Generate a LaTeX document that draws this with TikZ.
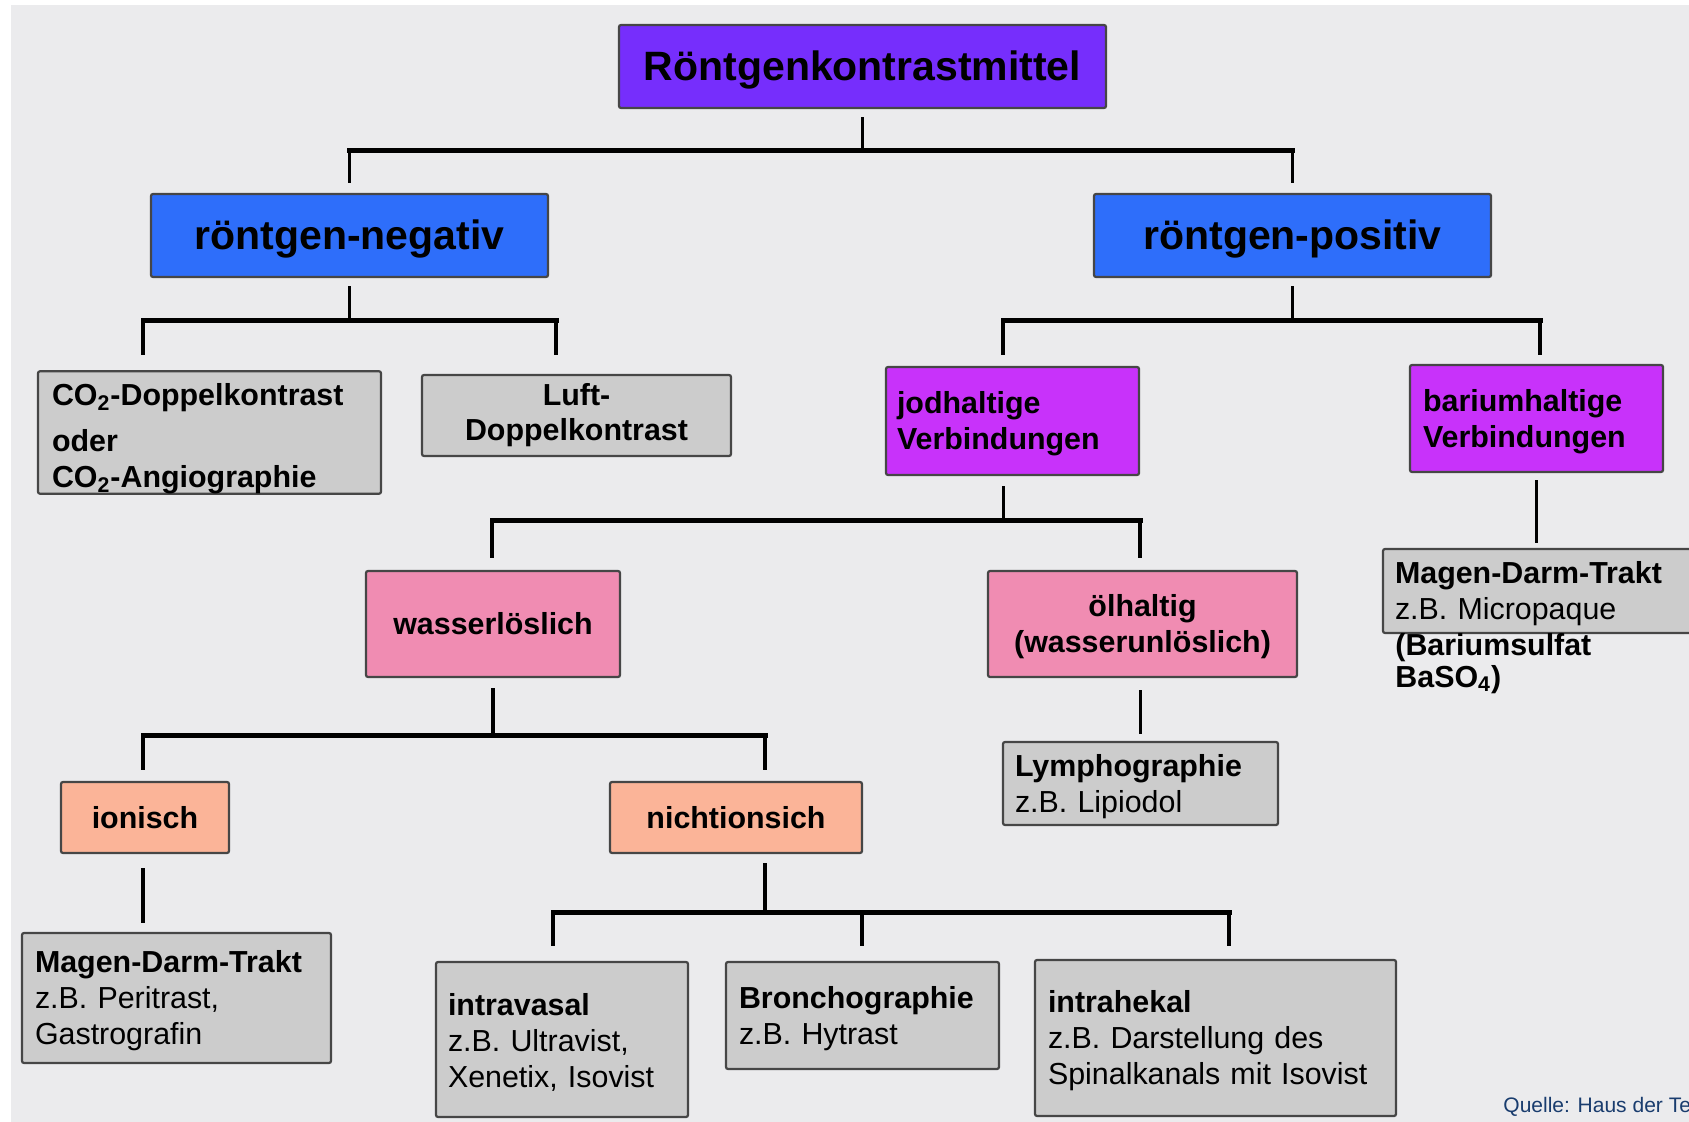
\documentclass[tikz,border=0pt]{standalone}
\usepackage{fontspec}
\setmainfont{Liberation Sans}
\usetikzlibrary{calc}
\definecolor{bgc}{RGB}{235,235,237}
\definecolor{rootc}{RGB}{118,46,252}
\definecolor{bluec}{RGB}{46,110,250}
\definecolor{magc}{RGB}{200,50,250}
\definecolor{pinkc}{RGB}{240,140,178}
\definecolor{salc}{RGB}{251,180,152}
\definecolor{grayc}{RGB}{204,204,204}
\definecolor{bordc}{RGB}{70,70,70}
\definecolor{srcc}{RGB}{25,60,110}
\tikzset{
  box/.style={draw=bordc, line width=1.1pt, rounded corners=1pt, inner sep=0pt, align=center},
  sz/.style 2 args={minimum width=#1, minimum height=#2},
  bigfont/.style={font=\fontsize{20.5}{24}\selectfont\bfseries, text height=18pt},
  midfont/.style={font=\fontsize{15.2}{18}\selectfont\bfseries},
  lbox/.style={box, fill=grayc, align=left, font=\fontsize{15.2}{18}\selectfont, text height=14pt},
  txt/.style={inner sep=0pt, font=\fontsize{15.2}{18}\selectfont},
  stub/.style={line width=1.7pt},
  barl/.style={line width=2.5pt, line cap=rect},
}
\begin{document}
\begin{tikzpicture}[x=0.5pt, y=-0.5pt]
\useasboundingbox (0,0) rectangle (1689,1122);
\clip (0,0) rectangle (1689,1122);
\fill[white] (0,0) rectangle (1689,1122);
\fill[bgc] (11,5) rectangle (1689,1122);

% nodes
\node[box, fill=rootc, bigfont, sz={243.5pt}{41.5pt}] (root) at (862.5,66.5) {Röntgenkontrastmittel};
\node[box, fill=bluec, bigfont, sz={198.5pt}{41.5pt}] (neg) at (349.5,235.5) {röntgen-negativ};
\node[box, fill=bluec, bigfont, sz={198.5pt}{41.5pt}] (pos) at (1292.5,235.5) {röntgen-positiv};

\node[lbox, text width=157.5pt, text height=17pt, sz={171.5pt}{60.5pt}] (co2) at (209.5,432.5)
  {\textbf{CO\textsubscript{2}-Doppelkontrast}\\[5pt] \textbf{oder}\\ \textbf{CO\textsubscript{2}-Angiographie}};
\node[box, fill=grayc, font=\fontsize{15.2}{17.5}\selectfont\bfseries, sz={154.5pt}{40.5pt}] (luft) at (576.5,415.5) {Luft-\\Doppelkontrast};

\node[lbox, fill=magc, text width=115.5pt, sz={126.5pt}{54pt}] (jod) at (1012.5,421)
  {\textbf{jodhaltige}\\ \textbf{Verbindungen}};
\node[lbox, fill=magc, text width=113.5pt, sz={126.5pt}{53.5pt}] (bar) at (1536.5,418.5)
  {\textbf{bariumhaltige}\\ \textbf{Verbindungen}};
\node[lbox, text width=146.5pt, sz={158.5pt}{42pt}] (magR) at (1541.5,591)
  {\textbf{Magen-Darm-Trakt}\\ z.B. Micropaque};
\node[txt, anchor=base west] (magR3) at (1395,655) {\textbf{(Bariumsulfat}};
\node[txt, anchor=base west] (magR4) at (1395,687) {\textbf{BaSO\textsubscript{4})}};

\node[box, fill=pinkc, midfont, sz={127pt}{53pt}] (wasser) at (493,624) {wasserlöslich};
\node[box, fill=pinkc, midfont, text width=140pt, align=center, text height=14pt, sz={154.5pt}{53pt}] (oel) at (1142.5,624) {ölhaltig\\(wasserunlöslich)};
\node[lbox, text width=125.5pt, sz={137.5pt}{41.5pt}] (lymph) at (1140.5,783.5)
  {\textbf{Lymphographie}\\ z.B. Lipiodol};

\node[box, fill=salc, midfont, sz={84pt}{35.5pt}] (ion) at (145,817.5) {ionisch};
\node[box, fill=salc, midfont, sz={126pt}{35.5pt}] (nicht) at (736,817.5) {nichtionsich};

\node[lbox, text width=141.5pt, sz={154.5pt}{65pt}] (magL) at (176.5,998)
  {\textbf{Magen-Darm-Trakt}\\ z.B. Peritrast,\\ Gastrografin};
\node[lbox, text width=114pt, sz={126pt}{77.5pt}] (intra) at (562,1039.5)
  {\textbf{intravasal}\\ z.B. Ultravist,\\ Xenetix, Isovist};
\node[lbox, text width=123.5pt, sz={136.5pt}{53.5pt}] (bronch) at (862.5,1015.5)
  {\textbf{Bronchographie}\\ z.B. Hytrast};
\node[lbox, text width=167.5pt, sz={180.5pt}{78pt}] (intrah) at (1215.5,1038)
  {\textbf{intrahekal}\\ z.B. Darstellung des\\ Spinalkanals mit Isovist};

\node[anchor=base west, inner sep=0pt, font=\fontsize{10.5}{12}\selectfont, text=srcc] (src) at (1503,1112) {Quelle: Haus der Te};

% connectors: root
\draw[stub] ($(root.south)+(0,8)$) -- (root.south |- 0,151);
\draw[barl] (neg.north |- 0,151) -- (pos.north |- 0,151);
\draw[stub] (neg.north |- 0,151) -- ++(0,32);
\draw[stub] (pos.north |- 0,151) -- ++(0,32);

% röntgen-negativ
\draw[stub] ($(neg.south)+(0,8)$) -- (neg.south |- 0,321);
\coordinate (nl) at (143,321);
\coordinate (nr) at (556,321);
\draw[barl] (nl) -- (nr);
\draw[stub] (nl) -- ++(0,34);
\draw[stub] (nr) -- ++(0,34);

% röntgen-positiv
\draw[stub] ($(pos.south)+(0,8)$) -- (pos.south |- 0,321);
\coordinate (pl) at (1003,321);
\coordinate (pr) at (1540,321);
\draw[barl] (pl) -- (pr);
\draw[stub] (pl) -- ++(0,34);
\draw[stub] (pr) -- ++(0,34);

% jodhaltige
\draw[stub] ($(jod.south)+(-9,10)$) -- ++(0,35);
\coordinate (jl) at (492,520);
\coordinate (jr) at (1140,520);
\draw[barl] (jl) -- (jr);
\draw[stub] (jl) -- ++(0,38);
\draw[stub] (jr) -- ++(0,38);

% bariumhaltige
\draw[stub] ($(bar.south)+(0,7)$) -- ($(bar.south |- magR.north)+(0,-5)$);

% wasserlöslich
\draw[stub] ($(wasser.south)+(0,10)$) -- (wasser.south |- 0,735);
\coordinate (wl) at (143,735);
\coordinate (wr) at (765,735);
\draw[barl] (wl) -- (wr);
\draw[stub] (wl) -- ++(0,35);
\draw[stub] (wr) -- ++(0,35);

% ölhaltig
\draw[stub] ($(oel.south)+(-2,12)$) -- ($(lymph.north)+(0,-7)$);

% ionisch
\draw[stub] ($(ion.south)+(-2,14)$) -- ($(ion.south |- magL.north)+(-2,-9)$);

% nichtionisch
\draw[stub] ($(nicht.south)+(29,9)$) -- ++(0,50);
\coordinate (cl) at (553,912);
\coordinate (cm) at (862,912);
\coordinate (cr) at (1229,912);
\draw[barl] (cl) -- (cr);
\draw[stub] (cl) -- ++(0,34);
\draw[stub] (cm) -- ++(0,34);
\draw[stub] (cr) -- ++(0,34);
\end{tikzpicture}
\end{document}
